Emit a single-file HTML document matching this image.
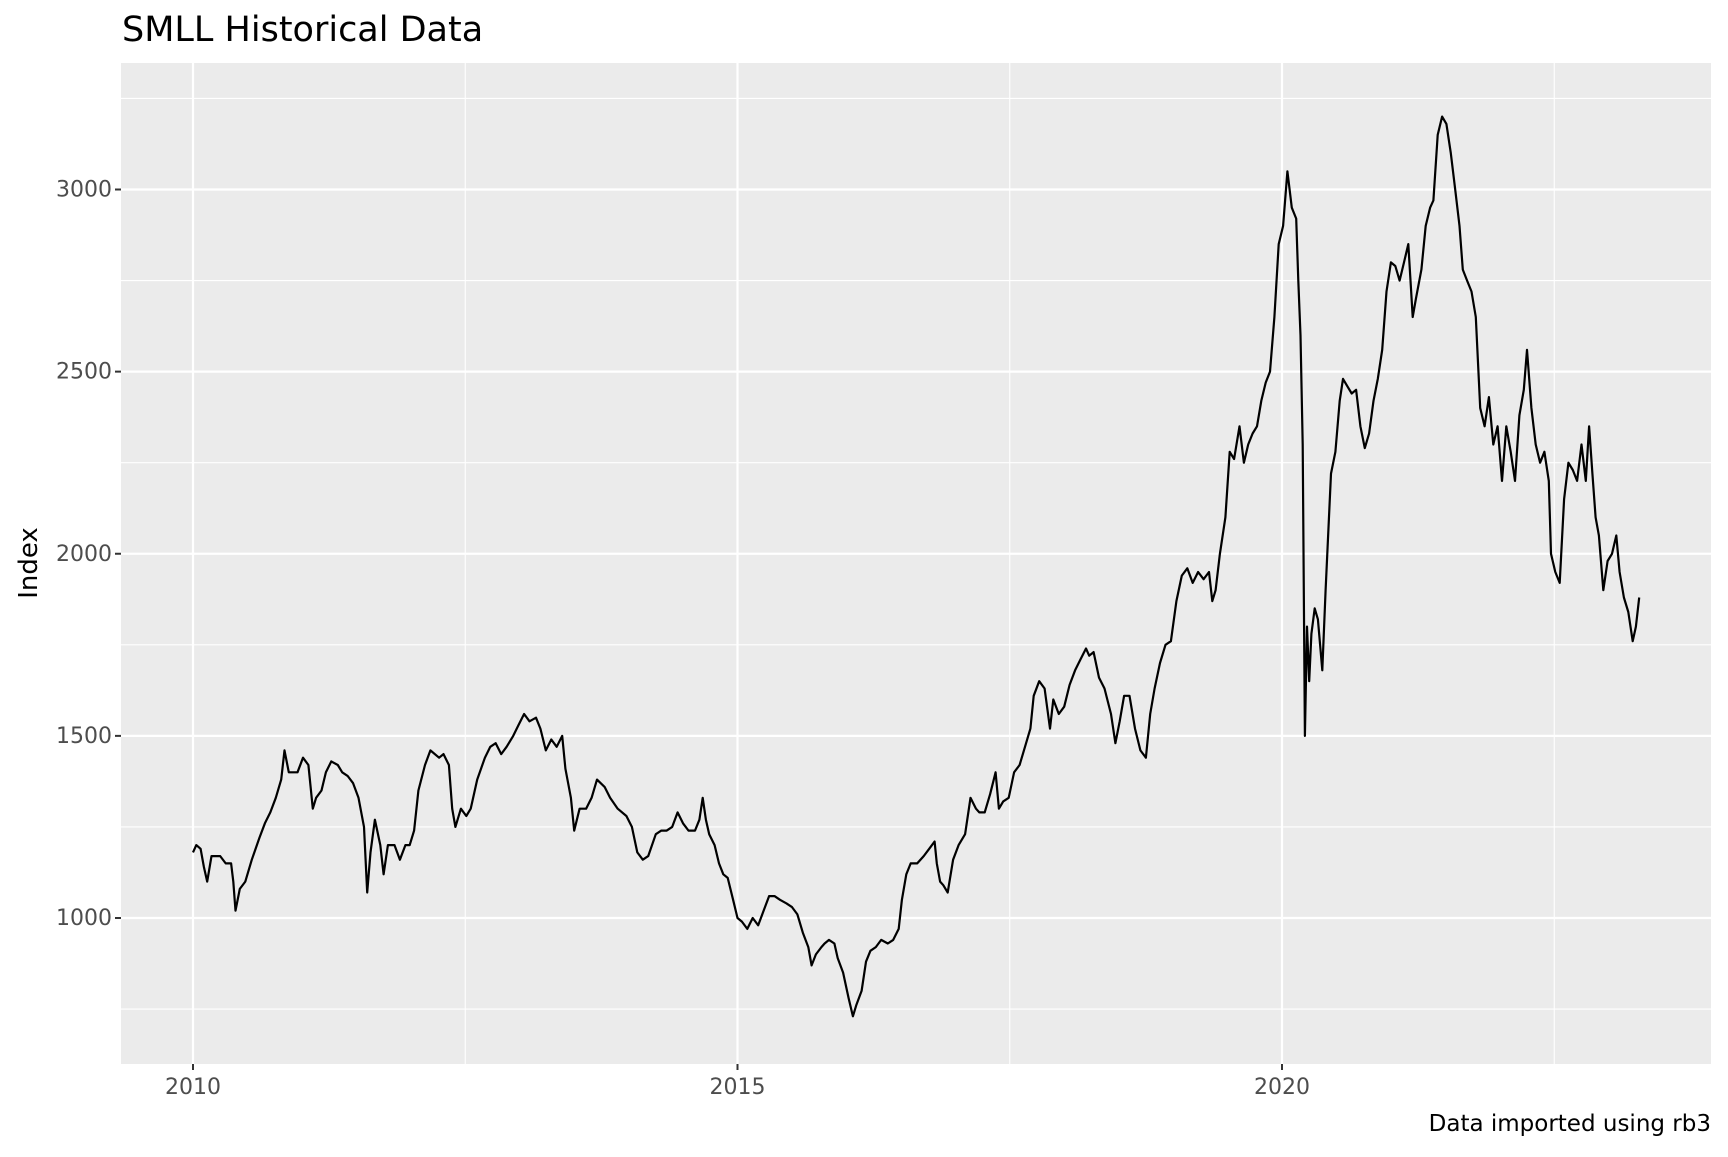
<!DOCTYPE html>
<html><head><meta charset="utf-8"><style>
body{margin:0;background:#fff}
svg text{font-family:"DejaVu Sans","Liberation Sans",sans-serif}
</style></head><body>
<svg id="chart" width="1728" height="1152" xmlns="http://www.w3.org/2000/svg">
<rect width="1728" height="1152" fill="#fff"/>
<text x="122" y="41" font-size="35" fill="#000">SMLL Historical Data</text>
<rect x="121" y="63" width="1590" height="1001" fill="#ebebeb"/>
<g id="grid"></g><g id="axes"></g><g id="series"></g>
<text transform="translate(37,563) rotate(-90)" font-size="26" text-anchor="middle" fill="#000">Index</text>
<text x="1711" y="1131" font-size="23" text-anchor="end" fill="#000">Data imported using rb3</text>
</svg>
<script>
const dates=[2010.00,2010.03,2010.07,2010.10,2010.13,2010.17,2010.25,2010.30,2010.35,2010.37,2010.39,2010.43,2010.48,2010.54,2010.61,2010.66,2010.71,2010.76,2010.81,2010.84,2010.88,2010.96,2011.01,2011.06,2011.10,2011.13,2011.18,2011.22,2011.27,2011.33,2011.37,2011.42,2011.47,2011.52,2011.57,2011.60,2011.63,2011.67,2011.72,2011.75,2011.79,2011.85,2011.90,2011.95,2011.99,2012.03,2012.07,2012.13,2012.18,2012.26,2012.30,2012.35,2012.38,2012.41,2012.46,2012.51,2012.55,2012.61,2012.68,2012.73,2012.78,2012.83,2012.88,2012.94,2012.99,2013.04,2013.09,2013.15,2013.19,2013.24,2013.29,2013.34,2013.39,2013.42,2013.47,2013.50,2013.55,2013.61,2013.66,2013.71,2013.78,2013.83,2013.90,2013.98,2014.03,2014.08,2014.13,2014.18,2014.25,2014.30,2014.35,2014.40,2014.45,2014.50,2014.55,2014.61,2014.65,2014.68,2014.71,2014.74,2014.79,2014.83,2014.87,2014.91,2014.96,2015.00,2015.04,2015.09,2015.14,2015.19,2015.24,2015.29,2015.34,2015.39,2015.45,2015.50,2015.55,2015.60,2015.65,2015.68,2015.72,2015.77,2015.80,2015.84,2015.89,2015.92,2015.97,2016.02,2016.06,2016.09,2016.14,2016.18,2016.22,2016.27,2016.32,2016.38,2016.43,2016.48,2016.51,2016.55,2016.59,2016.65,2016.71,2016.76,2016.81,2016.83,2016.86,2016.89,2016.93,2016.98,2017.03,2017.09,2017.14,2017.19,2017.22,2017.27,2017.32,2017.37,2017.40,2017.44,2017.49,2017.54,2017.59,2017.64,2017.69,2017.72,2017.77,2017.82,2017.87,2017.90,2017.95,2018.00,2018.05,2018.10,2018.15,2018.20,2018.23,2018.27,2018.32,2018.37,2018.43,2018.47,2018.51,2018.55,2018.60,2018.65,2018.70,2018.75,2018.79,2018.83,2018.88,2018.93,2018.98,2019.03,2019.08,2019.13,2019.18,2019.23,2019.28,2019.33,2019.36,2019.39,2019.43,2019.48,2019.52,2019.56,2019.61,2019.65,2019.69,2019.73,2019.77,2019.81,2019.85,2019.89,2019.93,2019.97,2020.01,2020.05,2020.09,2020.13,2020.15,2020.17,2020.19,2020.21,2020.23,2020.25,2020.27,2020.30,2020.33,2020.37,2020.40,2020.45,2020.49,2020.53,2020.56,2020.60,2020.64,2020.68,2020.72,2020.76,2020.80,2020.84,2020.88,2020.92,2020.96,2021.00,2021.04,2021.08,2021.12,2021.16,2021.20,2021.23,2021.28,2021.32,2021.36,2021.39,2021.43,2021.47,2021.51,2021.55,2021.59,2021.63,2021.66,2021.70,2021.74,2021.78,2021.82,2021.86,2021.90,2021.94,2021.98,2022.02,2022.06,2022.10,2022.14,2022.18,2022.22,2022.25,2022.29,2022.33,2022.37,2022.41,2022.45,2022.47,2022.51,2022.55,2022.59,2022.63,2022.67,2022.71,2022.75,2022.79,2022.82,2022.85,2022.88,2022.91,2022.95,2022.99,2023.03,2023.07,2023.10,2023.14,2023.18,2023.22,2023.25,2023.28];
const values=[1180,1200,1190,1140,1100,1170,1170,1150,1150,1100,1020,1080,1100,1160,1220,1260,1290,1330,1380,1460,1400,1400,1440,1420,1300,1330,1350,1400,1430,1420,1400,1390,1370,1330,1250,1070,1180,1270,1200,1120,1200,1200,1160,1200,1200,1240,1350,1420,1460,1440,1450,1420,1300,1250,1300,1280,1300,1380,1440,1470,1480,1450,1470,1500,1530,1560,1540,1550,1520,1460,1490,1470,1500,1410,1330,1240,1300,1300,1330,1380,1360,1330,1300,1280,1250,1180,1160,1170,1230,1240,1240,1250,1290,1260,1240,1240,1270,1330,1270,1230,1200,1150,1120,1110,1050,1000,990,970,1000,980,1020,1060,1060,1050,1040,1030,1010,960,920,870,900,920,930,940,930,890,850,780,730,760,800,880,910,920,940,930,940,970,1050,1120,1150,1150,1170,1190,1210,1150,1100,1090,1070,1160,1200,1230,1330,1300,1290,1290,1340,1400,1300,1320,1330,1400,1420,1470,1520,1610,1650,1630,1520,1600,1560,1580,1640,1680,1710,1740,1720,1730,1660,1630,1560,1480,1540,1610,1610,1520,1460,1440,1560,1630,1700,1750,1760,1870,1940,1960,1920,1950,1930,1950,1870,1900,2000,2100,2280,2260,2350,2250,2300,2330,2350,2420,2470,2500,2650,2850,2900,3050,2950,2920,2750,2600,2300,1500,1800,1650,1780,1850,1820,1680,1900,2220,2280,2420,2480,2460,2440,2450,2350,2290,2330,2420,2480,2560,2720,2800,2790,2750,2800,2850,2650,2700,2780,2900,2950,2970,3150,3200,3180,3100,3000,2900,2780,2750,2720,2650,2400,2350,2430,2300,2350,2200,2350,2280,2200,2380,2450,2560,2400,2300,2250,2280,2200,2000,1950,1920,2150,2250,2230,2200,2300,2200,2350,2220,2100,2050,1900,1980,2000,2050,1950,1880,1840,1760,1800,1880];
const yTicks=[1000,1500,2000,2500,3000];
const yMinor=[750,1250,1750,2250,2750,3250];
const xTicks=[2010,2015,2020];
const xMinor=[2012.5,2017.5,2022.5];
const NS="http://www.w3.org/2000/svg";
const X0=121,X1=1711,Y0=63,Y1=1064;
function xs(t){return 193+(t-2010)*108.9;}
function ys(v){return 918-(v-1000)*0.36425;}
function mk(tag,attrs,parent){const e=document.createElementNS(NS,tag);for(const k in attrs)e.setAttribute(k,attrs[k]);parent.appendChild(e);return e;}
const grid=document.getElementById('grid'),axes=document.getElementById('axes'),ser=document.getElementById('series');
yMinor.forEach(v=>{const l=mk('line',{x1:X0,x2:X1,y1:ys(v),y2:ys(v),stroke:'#fff','stroke-width':1.1},grid);

});
xMinor.forEach(t=>{const l=mk('line',{x1:xs(t),x2:xs(t),y1:Y0,y2:Y1,stroke:'#fff','stroke-width':1.1},grid);

});
yTicks.forEach(v=>{const y=ys(v);
const l=mk('line',{x1:X0,x2:X1,y1:y,y2:y,stroke:'#fff','stroke-width':2.2},grid);


const tk=mk('line',{x1:X0-6,x2:X0,y1:y,y2:y,stroke:'#333','stroke-width':2},axes);


const tx=mk('text',{x:X0-9,y:y+7,'text-anchor':'end','font-size':22,fill:'#4d4d4d'},axes);tx.textContent=v;

});
xTicks.forEach(t=>{const x=xs(t);
const l=mk('line',{x1:x,x2:x,y1:Y0,y2:Y1,stroke:'#fff','stroke-width':2.2},grid);


const tk=mk('line',{x1:x,x2:x,y1:Y1,y2:Y1+6,stroke:'#333','stroke-width':2},axes);


const tx=mk('text',{x:x,y:Y1+30,'text-anchor':'middle','font-size':22,fill:'#4d4d4d'},axes);tx.textContent=t;

});
const d=dates.map((t,i)=>(i?'L':'M')+xs(t).toFixed(1)+','+ys(values[i]).toFixed(1)).join(' ');
const p=mk('path',{d:d,fill:'none',stroke:'#000','stroke-width':2.2,'stroke-linejoin':'round'},ser);


</script>
</body></html>
